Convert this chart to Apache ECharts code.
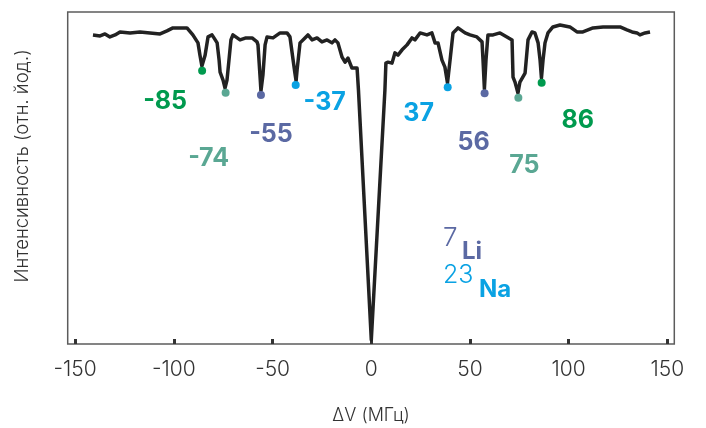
<!DOCTYPE html>
<html>
<head>
<meta charset="utf-8">
<script src="https://cdn.jsdelivr.net/npm/echarts@6/dist/echarts.min.js"></script>
<style>
  html, body { margin: 0; padding: 0; background: #fff; }
  #chart { width: 706px; height: 428px; }
</style>
</head>
<body>
<div id="chart"></div>
<script>
// frequency shift, MHz
const shift = [
  -141.0, -137.4, -134.9, -132.4, -129.8, -127.3, -122.2, -117.2, -112.1, -107.0,
  -103.5, -100.5, -93.4, -90.4, -87.8, -86.8, -85.8, -84.2, -82.7, -80.7,
  -79.7, -78.1, -77.1, -76.6, -75.1, -74.1, -73.1, -72.1, -71.1, -70.1,
  -66.5, -63.5, -60.4, -57.9, -57.4, -56.4, -55.9, -54.9, -53.8, -52.8,
  -49.8, -46.2, -42.7, -41.2, -39.6, -38.7, -38.1, -37.6, -36.1, -33.6,
  -32.1, -30.0, -27.5, -25.0, -22.4, -19.9, -18.4, -16.9, -14.8, -13.3,
  -11.8, -9.8, -7.2, -6.5, 0.0, 6.9, 7.4, 8.5, 10.5, 12.0,
  13.5, 15.6, 18.1, 20.6, 22.1, 24.7, 28.2, 30.7, 32.3, 33.8,
  35.8, 37.3, 38.6, 39.9, 41.4, 43.9, 47.5, 50.0, 53.5, 56.1,
  56.6, 57.3, 58.1, 59.1, 61.7, 65.2, 68.7, 71.3, 71.8, 72.8,
  74.3, 75.3, 76.3, 77.9, 79.4, 81.4, 82.9, 84.5, 85.5, 86.2,
  87.0, 88.0, 89.5, 92.0, 95.6, 100.6, 104.2, 107.2, 112.3, 117.4,
  126.0, 129.5, 132.1, 134.6, 136.1, 138.7, 141.2
]
// intensity, arbitrary units
const intensity = [
  93.1, 92.8, 93.4, 92.5, 93.1, 94.0, 93.7, 94.0, 93.7, 93.4,
  94.3, 95.2, 95.2, 93.1, 90.7, 87.0, 83.7, 87.0, 92.5, 93.1,
  92.2, 90.7, 85.5, 81.9, 79.5, 77.1, 79.5, 85.5, 91.6, 93.1,
  91.6, 92.2, 92.2, 91.0, 90.1, 81.0, 76.2, 81.0, 90.1, 92.5,
  92.2, 93.7, 93.7, 92.5, 85.5, 81.6, 79.2, 82.5, 90.7, 92.2,
  93.1, 91.6, 92.2, 91.0, 91.6, 90.7, 91.6, 90.7, 86.4, 84.9,
  86.1, 83.1, 83.1, 76.5, 1.2, 76.5, 84.6, 84.9, 84.6, 87.7,
  87.0, 88.6, 90.1, 92.2, 91.6, 93.7, 93.1, 93.7, 90.7, 90.7,
  85.5, 83.4, 78.6, 85.5, 93.7, 95.2, 93.7, 93.1, 92.5, 91.0,
  85.5, 76.8, 85.5, 93.1, 93.1, 93.7, 92.5, 91.6, 80.4, 78.9,
  75.6, 78.9, 78.9, 81.6, 91.6, 94.0, 93.7, 90.7, 85.5, 80.1,
  85.5, 90.7, 93.7, 95.5, 96.1, 95.5, 94.0, 94.0, 95.2, 95.5,
  95.5, 94.6, 94.0, 93.7, 93.1, 93.7, 94.0
]

// marked peaks
const peakShift = [-85.7, -73.8, -55.9, -38.3, 38.7, 57.4, 74.5, 86.3]
const peakIntensity = [82.3, 75.7, 75.0, 78.0, 77.3, 75.5, 74.2, 78.7]
const peakLabels = ['-85', '-74', '-55', '-37', '37', '56', '75', '86']

const tickValues = [-150, -100, -50, 0, 50, 100, 150]

const GREEN = '#009a4e'
const TEAL = '#5aa793'
const SLATE = '#5b69a3'
const CYAN = '#0aa2e3'
const peakColors = [GREEN, TEAL, SLATE, CYAN, CYAN, SLATE, TEAL, GREEN]
// label centre relative to dot, px
const labelOffsets = [[-37, 31], [-17, 66], [10, 39], [29, 17], [-29, 26], [-11, 49], [6, 68], [36, 38]]

const chart = echarts.init(document.getElementById('chart'))

const option = {
  animation: false,
  grid: {
    left: 67.7,
    right: 31.7,
    top: 12,
    bottom: 84,
    show: true,
    borderColor: '#5c5c5c',
    borderWidth: 1.5,
    outerBoundsMode: 'none'
  },
  xAxis: {
    type: 'value',
    min: -153.8,
    max: 153.5,
    name: 'ΔV (МГц)',
    nameLocation: 'middle',
    nameGap: 63,
    nameTextStyle: { fontFamily: 'Inter', fontWeight: 300, fontSize: 18, color: '#333' },
    axisLine: { show: false },
    axisTick: {
      inside: true,
      length: 5,
      customValues: tickValues,
      lineStyle: { color: '#333', width: 3 }
    },
    axisLabel: {
      customValues: tickValues,
      margin: 15,
      fontFamily: 'Inter',
      fontWeight: 300,
      fontSize: 21,
      color: '#333'
    },
    splitLine: { show: false }
  },
  yAxis: {
    type: 'value',
    min: 0,
    max: 100,
    axisLine: { show: false },
    axisTick: { show: false },
    axisLabel: { show: false },
    splitLine: { show: false }
  },
  series: [
    {
      type: 'line',
      data: shift.map((x, i) => [x, intensity[i]]),
      showSymbol: false,
      lineStyle: { color: '#222', width: 3.5, join: 'round' },
      z: 2
    },
    {
      type: 'scatter',
      symbolSize: 8,
      z: 3,
      data: peakShift.map((x, i) => ({
        value: [x, peakIntensity[i]],
        itemStyle: { color: peakColors[i], opacity: 1 },
        label: {
          show: true,
          formatter: peakLabels[i],
          position: 'inside',
          offset: labelOffsets[i],
          color: peakColors[i],
          fontFamily: 'Inter',
          fontWeight: 'bold',
          fontSize: 25
        }
      }))
    }
  ],
  graphic: [
    {
      type: 'text',
      x: 22,
      y: 166,
      rotation: Math.PI / 2,
      style: {
        text: 'Интенсивность (отн. йод.)',
        fontFamily: 'Inter',
        fontWeight: 300,
        fontSize: 18.5,
        fill: '#333',
        align: 'center',
        verticalAlign: 'middle'
      }
    },
    {
      type: 'text', x: 443, y: 238,
      style: { text: '7', fontFamily: 'Inter', fontWeight: 300, fontSize: 26, fill: SLATE, verticalAlign: 'middle' }
    },
    {
      type: 'text', x: 462, y: 252,
      style: { text: 'Li', fontFamily: 'Inter', fontWeight: 'bold', fontSize: 24, fill: SLATE, verticalAlign: 'middle' }
    },
    {
      type: 'text', x: 443, y: 275,
      style: { text: '23', fontFamily: 'Inter', fontWeight: 300, fontSize: 25, fill: CYAN, verticalAlign: 'middle' }
    },
    {
      type: 'text', x: 479, y: 290,
      style: { text: 'Na', fontFamily: 'Inter', fontWeight: 'bold', fontSize: 24, fill: CYAN, verticalAlign: 'middle' }
    }
  ]
}

chart.setOption(option)
</script>
</body>
</html>
